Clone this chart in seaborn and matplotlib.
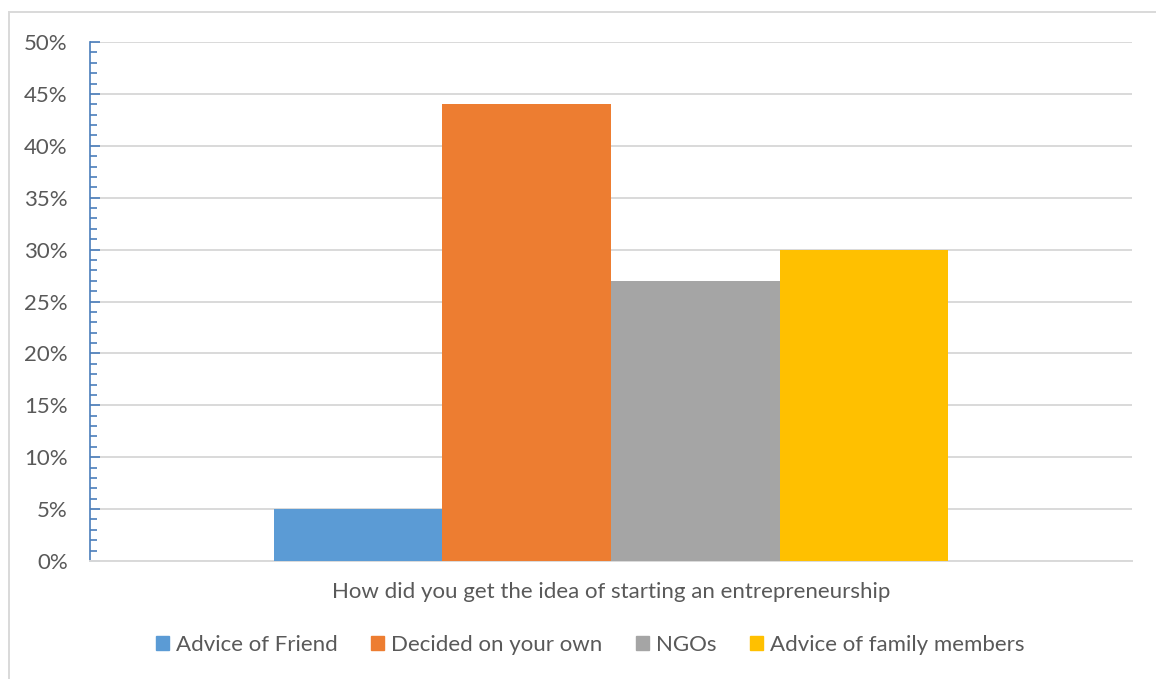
import matplotlib
matplotlib.use("Agg")
import matplotlib.pyplot as plt
from matplotlib.patches import Rectangle
from matplotlib.ticker import MultipleLocator, PercentFormatter
import pandas as pd
import seaborn as sns

# Survey responses
question = "How did you get the idea of starting an entrepreneurship"
sources = ["Advice of Friend", "Decided on your own", "NGOs", "Advice of family members"]
shares = [5, 44, 27, 30]
colors = ["#5B9BD5", "#ED7D31", "#A5A5A5", "#FFC000"]

df = pd.DataFrame({"question": [question] * len(sources), "source": sources, "share": shares})

sns.set_theme(style="white")
plt.rcParams["font.family"] = ["Lato", "DejaVu Sans"]
text_color = "#595959"
fs = 16

fig = plt.figure(figsize=(11.56, 6.79), dpi=100)
ax = fig.add_axes([90 / 1156, 1 - 561 / 679, (1132 - 90) / 1156, (561 - 42) / 679])

sns.barplot(data=df, x="question", y="share", hue="source", hue_order=sources,
            palette=colors, width=0.8, saturation=1, linewidth=0, ax=ax, legend=True, zorder=3)

ax.set_xlim(-0.618, 0.618)
ax.set_ylim(0, 50)
ax.yaxis.set_major_locator(MultipleLocator(5))
ax.yaxis.set_minor_locator(MultipleLocator(1))
ax.yaxis.set_major_formatter(PercentFormatter(decimals=0))
ax.grid(axis="y", color="#D9D9D9", linewidth=1.4, zorder=0)
ax.set_axisbelow(True)

for s in ("top", "right"):
    ax.spines[s].set_visible(False)
ax.spines["left"].set_color("#4A7EBB")
ax.spines["left"].set_linewidth(1.2)
ax.spines["bottom"].set_color("#D9D9D9")
ax.spines["bottom"].set_linewidth(1.4)

ax.tick_params(axis="y", which="both", direction="in", color="#4A7EBB", width=1.2,
               labelsize=fs, labelcolor=text_color, pad=16, left=True)
ax.tick_params(axis="y", which="major", length=7)
ax.tick_params(axis="y", which="minor", length=5)
ax.tick_params(axis="x", bottom=False, labelbottom=False)
ax.set_ylabel("")
ax.set_xlabel("")

fig.text(611 / 1156, 1 - 592 / 679, question, ha="center", va="center",
         fontsize=fs, color=text_color)

ax.legend_.remove()
handles = [Rectangle((0, 0), 1, 1, color=c) for c in colors]
fig.legend(handles, sources, loc="center", bbox_to_anchor=(590 / 1156, 1 - 645 / 679),
           ncol=4, frameon=False, fontsize=fs, labelcolor=text_color,
           handlelength=0.6, handleheight=0.6, handletextpad=0.3, columnspacing=1.5)

# chart area border
fig.add_artist(Rectangle((9 / 1156, -0.1), 1.2, 1 - 12 / 679 + 0.1, transform=fig.transFigure,
                         fill=False, edgecolor="#D9D9D9", linewidth=1.4))

fig.savefig("out.png", dpi=100, facecolor="white")
